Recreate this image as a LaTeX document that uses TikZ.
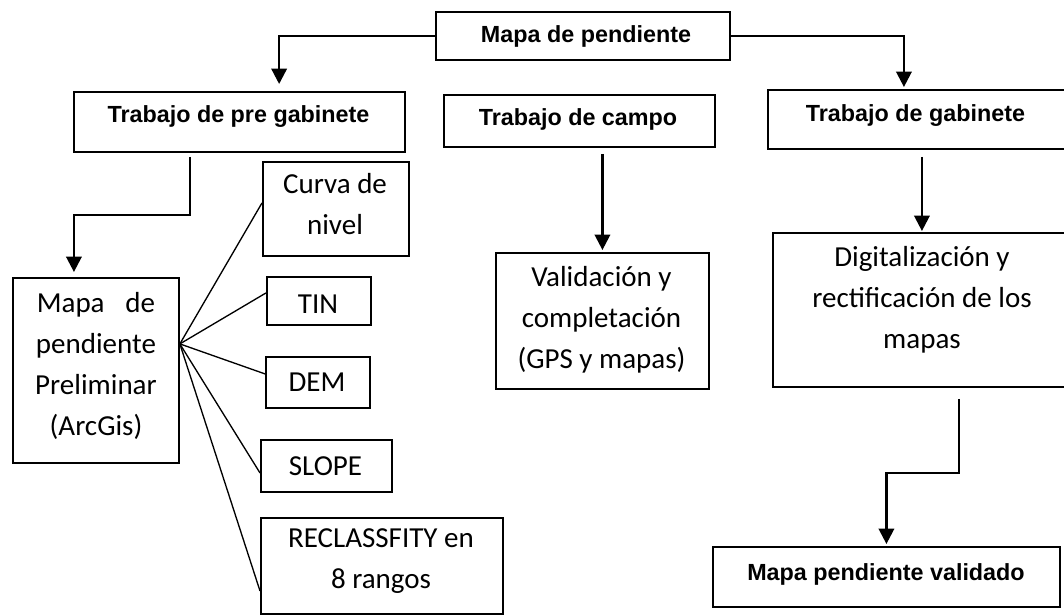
\documentclass[tikz,border=0pt]{standalone}
\usepackage{fontspec}
\setmainfont{Carlito}
\newfontfamily\hdrfont{Liberation Sans}
\usetikzlibrary{arrows.meta,calc}
\begin{document}
\begin{tikzpicture}[x=0.75pt,y=-0.75pt,
  box/.style={draw, line width=1.4pt, inner sep=0pt, anchor=north west},
  hdr/.style={anchor=base, inner sep=0pt, font=\hdrfont\bfseries\fontsize{17.5pt}{21pt}\selectfont},
  body/.style={align=center, inner sep=0pt, font=\fontsize{21.75pt}{30.75pt}\selectfont,
    execute at begin node={\strut}, execute at end node={\strut}},
  conn/.style={line width=1.8pt, -{Triangle[length=11.5pt,width=11.5pt]}},
  fanline/.style={line width=1pt}]
\clip (0,0) rectangle (1064,615);
% boxes
\node[box, minimum width=220.5pt, minimum height=36pt] (top) at (435,11) {};
\node[box, minimum width=248.25pt, minimum height=45pt] (pre) at (72.7,91) {};
\node[box, minimum width=203.25pt, minimum height=39pt] (campo) at (443,94) {};
\node[box, minimum width=228pt, minimum height=44.25pt] (gab) at (767,89) {};
\node[box, minimum width=124.5pt, minimum height=138.75pt] (prelim) at (12,277) {};
\node[box, minimum width=109.5pt, minimum height=70.5pt] (curva) at (262,161) {};
\node[box, minimum width=78pt, minimum height=36pt] (tin) at (266,276) {};
\node[box, minimum width=78pt, minimum height=38.25pt] (dem) at (265,356) {};
\node[box, minimum width=98.25pt, minimum height=39pt] (slope) at (260,439) {};
\node[box, minimum width=181.5pt, minimum height=72pt] (recl) at (260,517) {};
\node[box, minimum width=159.75pt, minimum height=102pt] (valid) at (495,252) {};
\node[box, minimum width=223.5pt, minimum height=115.5pt] (digit) at (772,232) {};
\node[box, minimum width=260.25pt, minimum height=45pt] (final) at (712,546) {};
% texts
\node[hdr] (topT) at (586,42.7) {Mapa de pendiente};
\node[hdr] (preT) at (238.5,122.7) {Trabajo de pre gabinete};
\node[hdr] (campoT) at (578,125.3) {Trabajo de campo};
\node[hdr] (gabT) at (915.5,121) {Trabajo de gabinete};
\node[hdr] (finalT) at (886,580) {Mapa pendiente validado};
\node[body] (prelimT) at (96,370) {Mapa\hspace{0.72em}de\\pendiente\\Preliminar\\(ArcGis)};
\node[body] (curvaT) at (335,210.5) {Curva de\\nivel};
\node[body] (tinT) at (318,305) {TIN};
\node[body] (demT) at (317,383) {DEM};
\node[body] (slopeT) at (325.5,467) {SLOPE};
\node[body] (reclT) at (381,565) {RECLASSFITY en\\8 rangos};
\node[body] (validT) at (601.5,324) {Validación y\\completación\\(GPS y mapas)};
\node[body] (digitT) at (922,303.5) {Digitalización y\\rectificación de los\\mapas};
% connectors
\draw[conn, shorten >=5.25pt] (top.west) -| ([xshift=30pt]pre.north);
\draw[conn, shorten >=1.5pt] (top.east) -| ([xshift=-12pt]gab.north);
\draw[conn, shorten <=3pt, shorten >=3.75pt] ([xshift=-36.75pt]pre.south) -- ++(0,62) -| ([xshift=-16.5pt]prelim.north);
\draw[conn, shorten <=4.5pt, shorten >=1.5pt] (valid.north |- campo.south) -- (valid.north);
\draw[conn, shorten <=5.25pt, shorten >=0.75pt] (digit.north |- gab.south) -- (digit.north);
\draw[conn, shorten <=8.25pt, shorten >=1.5pt] ([xshift=27.75pt]digit.south) -- ++(0,85) -| (final.north);
% fan
\coordinate (fan) at ([yshift=19.9pt]prelim.east);
\draw[fanline] (fan) -- ([yshift=4.5pt]curva.west);
\draw[fanline] (fan) -- ([yshift=6pt]tin.west);
\draw[fanline] (fan) -- ([yshift=6.4pt]dem.west);
\draw[fanline] (fan) -- ([yshift=-5.25pt]slope.west);
\draw[fanline] (fan) -- ([yshift=-18.75pt]recl.west);
\end{tikzpicture}
\end{document}
